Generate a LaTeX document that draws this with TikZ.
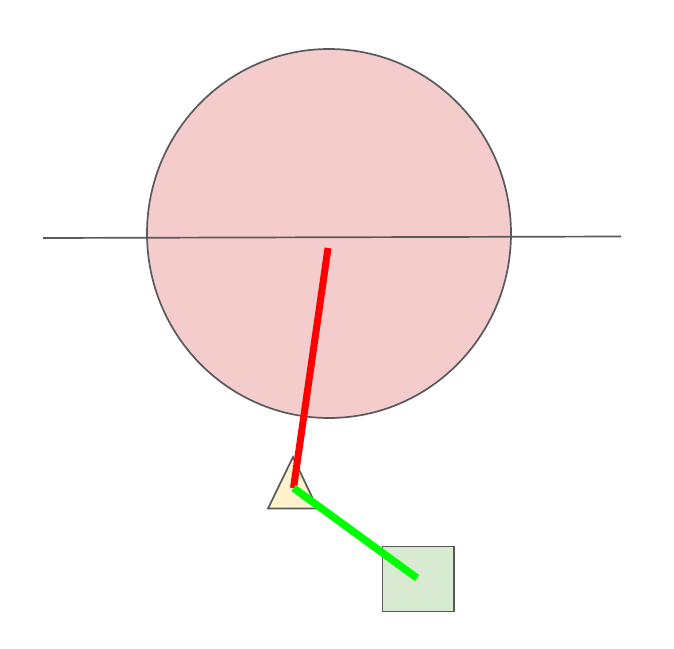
\documentclass[tikz,border=0pt]{standalone}
\usepackage{tikz}
\definecolor{CWheel}{HTML}{F4CCCC}
\definecolor{CPivot}{HTML}{FFF2CC}
\definecolor{CBox}{HTML}{D9EAD3}
\definecolor{CEdge}{HTML}{595959}

\begin{document}
\begin{tikzpicture}[x=1pt, y=-1pt, line width=1.7pt]
    \useasboundingbox (0, 0) rectangle (674, 648);

    \draw [draw=CEdge, fill=CWheel] (329, 233.5) ellipse [x radius=182, y radius=184.5];
    \coordinate (axisL) at (43, 238);
    \coordinate (axisR) at (621, 236.5);
    \draw [draw=CEdge] (axisL) -- (axisR);

    \draw [draw=CEdge, fill=CPivot] (268, 508.5) -- (293, 457) -- (317.5, 508.5) -- cycle;
    \draw [draw=CEdge, fill=CBox] (382.5, 546.5) rectangle (454, 611.5);

    \coordinate (crank) at (328, 248);
    \coordinate (pivot) at (293.5, 488);
    \coordinate (slider) at (417, 578);
    \draw [red, line width=7pt] (crank) -- (pivot);
    \draw [green, line width=7.5pt] (pivot) -- (slider);
\end{tikzpicture}
\end{document}
